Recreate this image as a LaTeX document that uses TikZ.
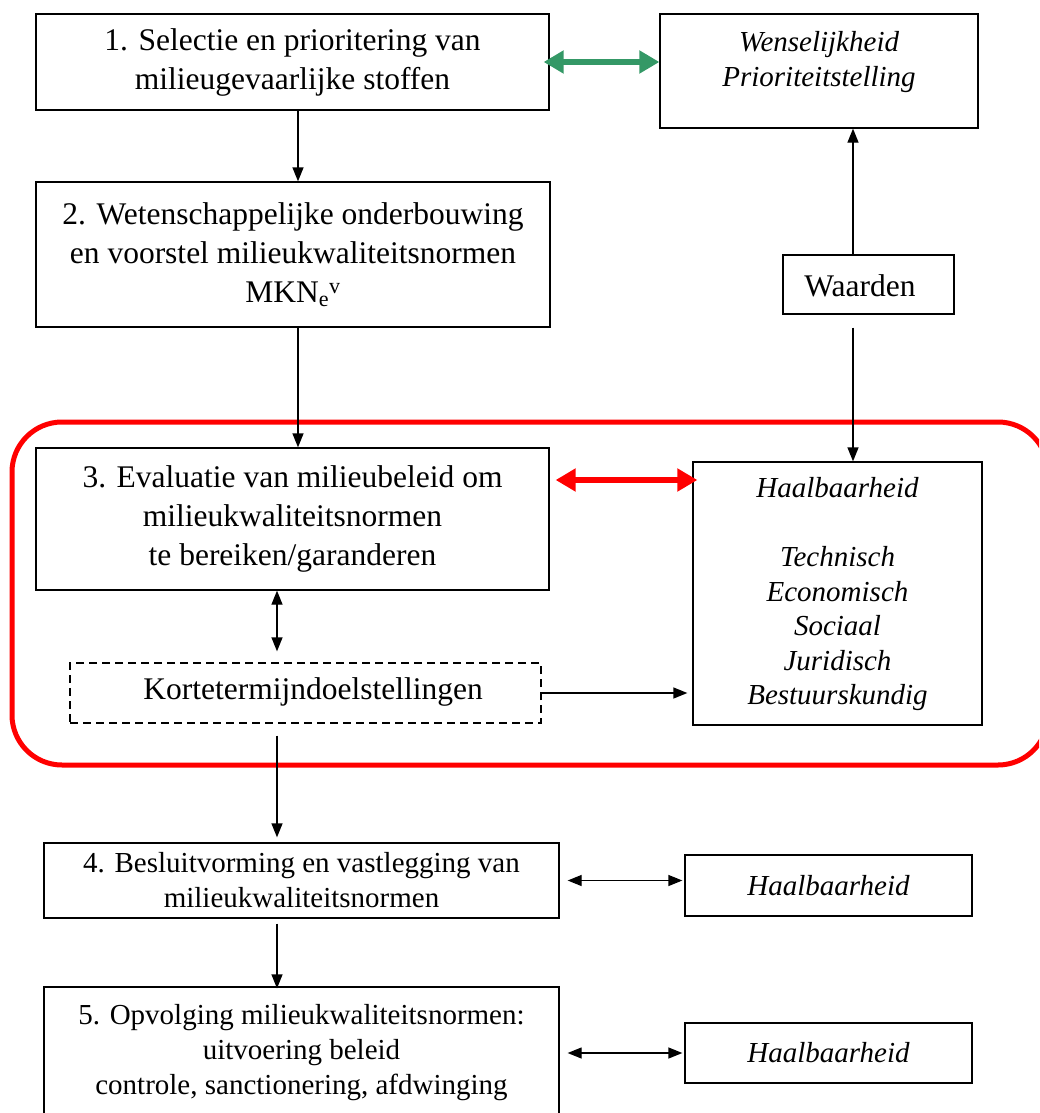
\documentclass[tikz,border=0pt]{standalone}
\usepackage{fontspec}
\setmainfont{Liberation Serif}
\usetikzlibrary{arrows.meta}
\definecolor{arrowgreen}{RGB}{52,152,102}
\definecolor{frame}{RGB}{255,0,0}
\begin{document}
\begin{tikzpicture}[x=1pt,y=-1pt,
  box/.style={draw, line width=1.3pt, inner sep=0pt, align=center},
  big/.style={font=\fontsize{31.5}{39}\selectfont},
  mid/.style={font=\fontsize{29}{35}\selectfont},
  ital/.style={font=\fontsize{29}{34.5}\selectfont\itshape},
  link/.style={line width=1.3pt, -{Triangle[length=14pt,width=11pt]}},
  twoway/.style={line width=1.3pt, {Triangle[length=14pt,width=11pt]}-{Triangle[length=14pt,width=11pt]}},
  fat/.style={line width=6pt, {Triangle[length=20pt,width=22pt]}-{Triangle[length=20pt,width=22pt]}}]
\useasboundingbox (0,0) rectangle (1039,1113);
\clip (0,0) rectangle (1039,1113);

% column used by the vertical links on the right
\coordinate (colR) at (853,0);

% left column of stages
\node[box, big, minimum width=513pt, minimum height=96pt] (b1) at (292.5,62)
  {1. Selectie en prioritering van\\milieugevaarlijke stoffen};
\node[box, big, minimum width=514pt, minimum height=145pt] (b2) at (293,254.5)
  {2. Wetenschappelijke onderbouwing\\en voorstel milieukwaliteitsnormen\\MKN\textsubscript{e}\textsuperscript{v}};
\node[box, big, minimum width=513pt, minimum height=142pt] (b3) at (292.5,519)
  {3. Evaluatie van milieubeleid om\\milieukwaliteitsnormen\\te bereiken/garanderen};
\node[draw, dash pattern=on 8pt off 5pt, line width=1.3pt, minimum width=471pt, minimum height=60pt, inner sep=0pt] (kort) at (305.5,693) {};
\node[big] (kortt) at (313,692) {Kortetermijndoelstellingen};
\node[box, mid, minimum width=515pt, minimum height=75pt] (b4) at (301.5,880.5)
  {4. Besluitvorming en vastlegging van\\milieukwaliteitsnormen};
\node[box, mid, minimum width=515pt, minimum height=140pt] (b5) at (301.5,1057)
  {};
\node[mid, align=center] (b5t) at (301.5,1053)
  {5. Opvolging milieukwaliteitsnormen:\\uitvoering beleid\\controle, sanctionering, afdwinging};

% right column
\node[box, minimum width=318pt, minimum height=114pt] (wens) at (819,71) {};
\node[ital, align=center, anchor=north] (wenst) at (819,28) {Wenselijkheid\\Prioriteitstelling};
\node[box, minimum width=171pt, minimum height=59pt] (waarden) at (868.5,284.5) {};
\node[big] (waardent) at (860,286) {Waarden};
\node[box, minimum width=289pt, minimum height=263pt] (haal) at (837.5,593.5) {};
\node[ital, align=center, anchor=north] (haalt) at (837.5,474)
  {Haalbaarheid\\[34.5pt]Technisch\\Economisch\\Sociaal\\Juridisch\\Bestuurskundig};
\node[box, ital, minimum width=287pt, minimum height=61pt] (h4) at (828.5,885.5) {Haalbaarheid};
\node[box, ital, minimum width=287pt, minimum height=60pt] (h5) at (828.5,1053) {Haalbaarheid};

% red frame around stage 3
\draw[frame, line width=5pt, rounded corners=50pt] (12,422) rectangle (1048,765);

% links
\draw[link] ([xshift=5.5pt]b1.south) -- ([xshift=5pt]b2.north);
\draw[link] ([xshift=5pt]b2.south) -- ([xshift=5.5pt]b3.north);
\draw[link] (waarden.north -| colR) -- (wens.south -| colR);
\draw[link] ([yshift=-13pt]waarden.south -| colR) -- (haal.north -| colR);
\draw[twoway] ([xshift=-15.5pt]b3.south) -- ([xshift=-28.5pt,yshift=11pt]kort.north);
\draw[link] (kort.east) -- ([xshift=-5pt]kort.east -| haal.west);
\draw[link] ([xshift=-28.5pt,yshift=-12pt]kort.south) -- ([xshift=-24.5pt,yshift=5pt]b4.north);
\draw[link] ([xshift=-24.5pt,yshift=-5pt]b4.south) -- ([xshift=-24.5pt,yshift=-2pt]b5.north);
\draw[twoway] ([xshift=8pt]b4.east) -- ([xshift=-2pt]b4.east -| h4.west);
\draw[twoway] ([xshift=8pt]b5t.east -| b5.east) -- ([xshift=-2pt]b5t.east -| h5.west);
\draw[fat, arrowgreen] ([xshift=-6pt]b1.east) -- (wens.west |- b1.east);
\draw[fat, frame] ([xshift=6pt,yshift=39pt]b3.east) -- ([xshift=5pt,yshift=39pt]b3.east -| haal.west);
\end{tikzpicture}
\end{document}
